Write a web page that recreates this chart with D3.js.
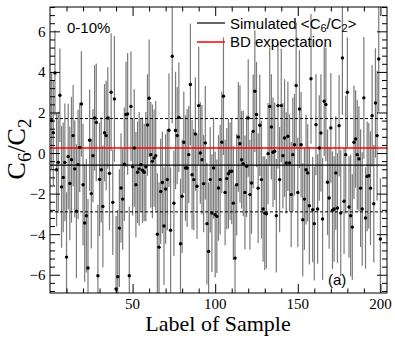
<!DOCTYPE html>
<html><head><meta charset="utf-8">
<script src="https://cdn.jsdelivr.net/npm/d3@7"></script>
<style>body{margin:0;background:#fff}svg{display:block}</style>
</head><body>
<script>
// ---- data ----
const sampleValues = [
 1.6, 1.0, 3.95, -0.82, -0.46, 2.85, -1.67, -1.2, -0.46, -5.13, -0.17, -1.5, -0.33, 0.86, -0.78, -2.87, -0.57, 0.28, 2.42, -1.56, -3.45, -3.09, -5.67, 0.63, -2.0, -0.13, 1.73, 1.51, -6.05, -1.3, -0.82, -2.63, 1.0, 0.86, 1.73,
 -1.0, 3.0, -2.43, 2.67, -6.7, -6.1, -3.7, -1.72, -2.27, -0.55, 1.9, 1.93, -6.05, 2.3, -0.68, 0.25, -1.56, -0.95, -0.78, -0.57, -0.85, -0.95, -0.68, 1.38, 2.7, -0.08, -0.41, -0.25, -0.13, -4.0, -4.64, -1.89, -1.45, -3.6,
 -1.77, -1.31, 1.12, -3.81, 4.77, -2.47, 1.11, 0.86, 1.76, -4.47, -2.13, 0.53, -0.74, -0.74, -0.08, 3.38, -1.07, -1.31, 0.94, -1.64, 2.34, 0.0, -0.33, -1.51, 0.5, -3.48, -4.85, -1.31, -2.96, -0.74, -3.04, -3.12, -1.72, -1.31, 0.53,
 2.8, -1.94, -1.26, -1.02, -0.9, -0.9, -2.47, -5.18, -1.56, 0.79, 0.46, -0.33, -0.52, -1.94, -0.65, 1.73, -2.05, -1.48, 1.07, 3.05, 1.9, -1.73, 1.37, -1.31, -2.76, -2.96, -2.99, -0.03, 2.3, 1.29, 0.04, 0.09, -3.09, 2.34, -1.31,
 2.34, -0.13, 0.74, -0.49, 0.83, -0.49, -2.05, -0.08, 0.41, 3.33, -1.94, 2.17, 0.41, -3.29, -2.27, -0.82, -0.98, -2.6, 3.66, -2.79, -3.48, 1.4, -2.76, 0.25, 0.99, -3.25, 2.55, 2.39, -1.44, -2.22, 1.24, -2.82, -2.76, -0.98,
 -2.71, 1.35, -2.96, 4.69, -2.38, -0.08, 3.0, -2.66, -3.09, -3.65, 0.53, 0.69, -0.08, -0.29, -1.73, -2.76, 2.72, -3.2, -1.15, -1.12, -1.73, 1.84, -2.5, 2.47, 0.86, 4.64, -4.24
];
const sampleErrors = [
 2.4, 2.6, 2.1, 2.8, 2.5, 2.3, 3.0, 2.7, 2.9, 3.2, 2.6, 2.8, 3.1, 2.5, 2.4, 3.3, 2.7, 2.2, 2.6, 3.0, 2.9, 2.8, 3.4, 2.5, 2.7, 2.3, 2.6, 2.9, 3.5, 2.8, 2.6, 3.0, 2.4, 2.7, 2.5,
 2.8, 2.9, 2.6, 3.1, 3.6, 3.3, 2.9, 2.7, 2.5, 2.8, 2.6, 3.0, 3.4, 2.7, 2.4, 2.9, 2.6, 2.5, 2.8, 2.3, 2.6, 2.4, 2.7, 2.5, 2.9, 2.6, 2.8, 2.4, 2.7, 3.0, 3.2, 2.6, 2.5, 2.9,
 2.7, 2.5, 2.8, 3.1, 3.3, 2.6, 2.9, 2.4, 2.7, 3.2, 2.8, 2.5, 2.6, 2.9, 2.4, 3.0, 2.7, 2.5, 2.8, 2.6, 2.9, 2.5, 2.7, 2.4, 2.8, 3.0, 3.4, 2.6, 2.9, 2.5, 3.1, 2.8, 2.6, 2.7, 2.5,
 2.9, 2.6, 2.5, 2.7, 2.4, 2.6, 2.8, 3.6, 2.5, 2.7, 2.9, 2.4, 2.6, 2.8, 2.5, 2.9, 2.7, 2.5, 2.8, 3.0, 2.6, 2.7, 2.5, 2.9, 2.6, 2.8, 2.7, 2.5, 2.9, 2.6, 2.7, 2.4, 2.8, 3.1, 2.6,
 2.8, 2.6, 2.9, 2.5, 2.7, 2.4, 2.6, 2.8, 2.5, 3.1, 2.7, 2.9, 2.6, 2.8, 2.5, 2.7, 2.4, 2.9, 3.2, 2.6, 2.8, 2.5, 2.7, 2.6, 2.9, 3.0, 2.7, 2.8, 2.6, 2.5, 2.7, 2.9, 2.6, 2.8,
 2.7, 2.5, 3.1, 2.8, 2.6, 2.9, 2.7, 2.5, 3.0, 2.6, 2.8, 2.4, 2.7, 2.6, 2.9, 2.8, 3.0, 2.5, 2.7, 2.6, 2.8, 2.5, 2.9, 2.7, 3.2, 2.6, 3.0
];
const sampleLabels = sampleValues.map((_, i) => i + 1);
const simulatedMean = -0.6;
const bandLevels = [1.7, -2.9];
const bdExpectation = 0.25;
const xTickLabels = [50, 100, 150, 200];
const yTickLabels = [-6, -4, -2, 0, 2, 4, 6];

// ---- layout ----
const W = 395, H = 342;
const L = 50, R = 387, T = 7, B = 293;
const svg = d3.select("body").append("svg").attr("width", W).attr("height", H);
const x = d3.scaleLinear().domain([0, 204]).range([L, R]);
const y = d3.scaleLinear().domain([-6.9, 7.2]).range([B, T]);

svg.append("defs").append("clipPath").attr("id", "clip")
  .append("rect").attr("x", L).attr("y", T).attr("width", R - L).attr("height", B - T);

const data = sampleLabels.map((s, i) => ({s, v: sampleValues[i], e: sampleErrors[i]}));
const plot = svg.append("g").attr("clip-path", "url(#clip)");

plot.selectAll("line.err").data(data).enter().append("line")
  .attr("class", "err")
  .attr("x1", d => x(d.s)).attr("x2", d => x(d.s))
  .attr("y1", d => y(d.v + d.e)).attr("y2", d => y(d.v - d.e))
  .attr("stroke", "#7a7a7a").attr("stroke-width", 1.2);

// reference lines
bandLevels.forEach(b => plot.append("line")
  .attr("x1", L).attr("x2", R).attr("y1", y(b)).attr("y2", y(b))
  .attr("stroke", "#000").attr("stroke-width", 1).attr("stroke-dasharray", "3,2"));
plot.append("line").attr("x1", L).attr("x2", R)
  .attr("y1", y(simulatedMean)).attr("y2", y(simulatedMean))
  .attr("stroke", "#000").attr("stroke-width", 1.2);
plot.append("line").attr("x1", L).attr("x2", R)
  .attr("y1", y(bdExpectation)).attr("y2", y(bdExpectation))
  .attr("stroke", "#ff0000").attr("stroke-width", 1.5);

plot.selectAll("circle.pt").data(data).enter().append("circle")
  .attr("class", "pt")
  .attr("cx", d => x(d.s)).attr("cy", d => y(d.v)).attr("r", 1.7)
  .attr("fill", "#000");

// axes (ticks inside, mirrored)
const serif = "'Liberation Serif','Times New Roman',serif";
const sans = "'Liberation Sans',Arial,sans-serif";

function ticksAxis(axisGen, transform, tickValues, size) {
  const g = svg.append("g").attr("transform", transform)
    .call(axisGen.tickValues(tickValues).tickSize(size).tickFormat(""));
  g.select(".domain").remove();
  g.selectAll("line").attr("stroke", "#000").attr("stroke-width", 1);
  return g;
}
const xMinor = d3.range(10, 205, 10).filter(v => v % 50 !== 0);
const yMinor = d3.range(-6.8, 7.21, 0.4).map(v => +v.toFixed(2)).filter(v => Math.abs(v / 2 - Math.round(v / 2)) > 1e-6);

ticksAxis(d3.axisTop(x), `translate(0,${B})`, xTickLabels, 9);
ticksAxis(d3.axisTop(x), `translate(0,${B})`, xMinor, 4.5);
ticksAxis(d3.axisBottom(x), `translate(0,${T})`, xTickLabels, 9);
ticksAxis(d3.axisBottom(x), `translate(0,${T})`, xMinor, 4.5);
ticksAxis(d3.axisRight(y), `translate(${L},0)`, yTickLabels, 10);
ticksAxis(d3.axisRight(y), `translate(${L},0)`, yMinor, 5);
ticksAxis(d3.axisLeft(y), `translate(${R},0)`, yTickLabels, 10);
ticksAxis(d3.axisLeft(y), `translate(${R},0)`, yMinor, 5);

svg.append("rect").attr("x", L).attr("y", T).attr("width", R - L).attr("height", B - T)
  .attr("fill", "none").attr("stroke", "#000").attr("stroke-width", 1);

// tick labels
svg.selectAll("text.xl").data(xTickLabels).enter().append("text")
  .attr("x", d => x(d)).attr("y", 309).attr("text-anchor", "middle")
  .attr("font-family", serif).attr("font-size", 15).text(d => d);
svg.selectAll("text.yl").data(yTickLabels).enter().append("text")
  .attr("x", 45.5).attr("y", d => y(d) + 5.5).attr("text-anchor", "end")
  .attr("font-family", serif).attr("font-size", 15)
  .text(d => d < 0 ? "\u2212" + Math.abs(d) : d);

// axis titles
svg.append("text").attr("x", 218).attr("y", 331).attr("text-anchor", "middle")
  .attr("font-family", serif).attr("font-size", 22).text("Label of Sample");
const yt = svg.append("text").attr("transform", "translate(25,149) rotate(-90)")
  .attr("text-anchor", "middle").attr("font-family", serif).attr("font-size", 26);
yt.append("tspan").text("C");
yt.append("tspan").attr("font-size", 19).attr("dy", 6).text("6");
yt.append("tspan").attr("dy", -6).text("/C");
yt.append("tspan").attr("font-size", 19).attr("dy", 6).text("2");

// annotations
svg.append("text").attr("x", 67).attr("y", 32.5).attr("font-family", sans)
  .attr("font-size", 15).text("0-10%");
svg.append("text").attr("x", 328).attr("y", 285).attr("font-family", sans)
  .attr("font-size", 15).text("(a)");

// legend
svg.append("line").attr("x1", 197).attr("x2", 225).attr("y1", 23).attr("y2", 23)
  .attr("stroke", "#000").attr("stroke-width", 1.2);
svg.append("line").attr("x1", 197).attr("x2", 225).attr("y1", 42).attr("y2", 42)
  .attr("stroke", "#ff0000").attr("stroke-width", 1.5);
const lt = svg.append("text").attr("x", 230).attr("y", 29).attr("font-family", sans).attr("font-size", 15);
lt.append("tspan").text("Simulated <C");
lt.append("tspan").attr("font-size", 11).attr("dy", 3).text("6");
lt.append("tspan").attr("dy", -3).text("/C");
lt.append("tspan").attr("font-size", 11).attr("dy", 3).text("2");
lt.append("tspan").attr("dy", -3).text(">");
svg.append("text").attr("x", 230).attr("y", 46.5).attr("font-family", sans)
  .attr("font-size", 15).text("BD expectation");
</script>
</body></html>
